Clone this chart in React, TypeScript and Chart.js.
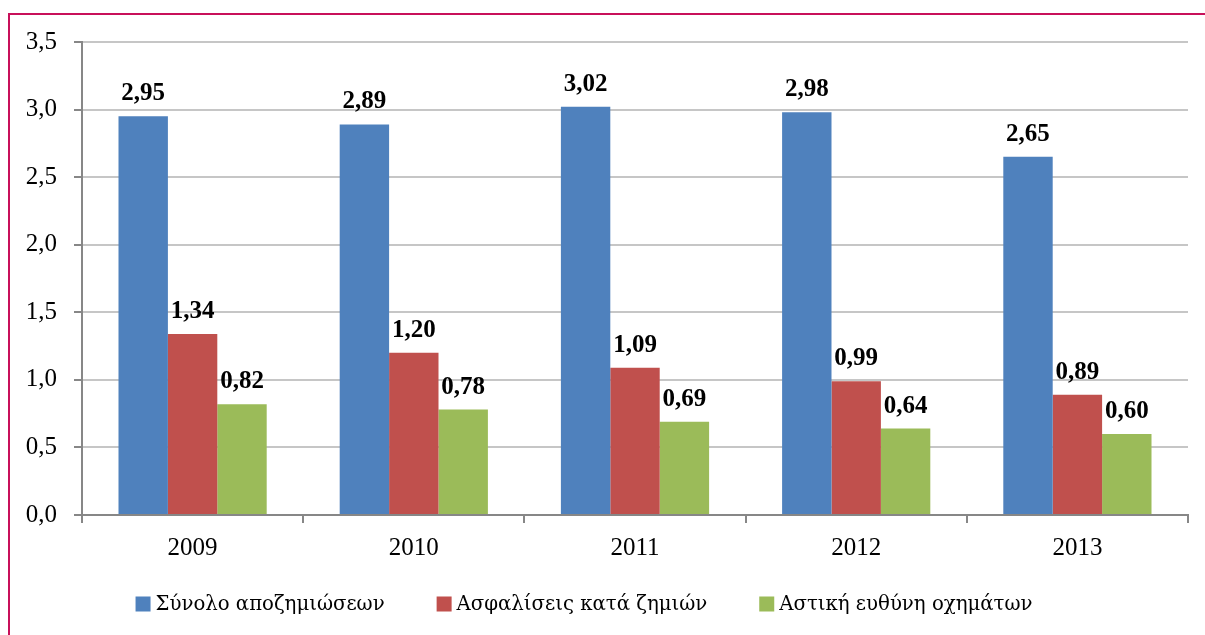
import React, { useEffect, useRef } from 'react';
import { Chart, registerables } from 'chart.js';

Chart.register(...registerables);

const categories = ['2009', '2010', '2011', '2012', '2013'];
const seriesNames = ['Σύνολο αποζημιώσεων', 'Ασφαλίσεις κατά ζημιών', 'Αστική ευθύνη οχημάτων'];
const totalValues = [2.95, 2.89, 3.02, 2.98, 2.65];
const propertyValues = [1.34, 1.2, 1.09, 0.99, 0.89];
const motorValues = [0.82, 0.78, 0.69, 0.64, 0.6];
const seriesColors = ['#4F81BD', '#C0504D', '#9BBB59'];

const FONT = "'Liberation Serif', 'Times New Roman', serif";
const LEGEND_FONT = "'DejaVu Serif', serif";
const fmt = (v: number, d: number) => v.toFixed(d).replace('.', ',');

const labelPlugin = {
  id: 'valueLabels',
  afterDatasetsDraw(chart: any) {
    const ctx = chart.ctx;
    ctx.save();
    ctx.font = `bold 25px ${FONT}`;
    ctx.fillStyle = '#000';
    ctx.textAlign = 'center';
    ctx.textBaseline = 'alphabetic';
    chart.data.datasets.forEach((ds: any, i: number) => {
      const meta = chart.getDatasetMeta(i);
      meta.data.forEach((el: any, j: number) => {
        ctx.fillText(fmt(ds.data[j], 2), el.x, el.y - 16);
      });
    });
    ctx.restore();
  },
};

const legendPlugin = {
  id: 'customLegend',
  afterDraw(chart: any) {
    const ctx = chart.ctx;
    ctx.save();
    ctx.font = `19.7px ${LEGEND_FONT}`;
    const box = 15;
    const gapText = 5;
    const gapItem = 52;
    const items = chart.data.datasets.map((ds: any) => ({
      text: ds.label,
      color: ds.backgroundColor,
      w: ctx.measureText(ds.label).width,
    }));
    const total = items.reduce((s: number, it: any) => s + box + gapText + it.w, 0) + gapItem * (items.length - 1);
    let x = 584 - total / 2;
    const cy = 604;
    ctx.textBaseline = 'middle';
    ctx.textAlign = 'left';
    items.forEach((it: any) => {
      ctx.fillStyle = it.color;
      ctx.fillRect(x, cy - box / 2, box, box);
      ctx.fillStyle = '#000';
      ctx.fillText(it.text, x + box + gapText, cy + 1);
      x += box + gapText + it.w + gapItem;
    });
    ctx.restore();
  },
};

export default function App() {
  const ref = useRef<HTMLCanvasElement | null>(null);

  useEffect(() => {
    document.body.style.overflow = 'hidden';
    if (!ref.current) return;
    const chart = new Chart(ref.current, {
      type: 'bar',
      data: {
        labels: categories,
        datasets: [
          { label: seriesNames[0], data: totalValues, backgroundColor: seriesColors[0] },
          { label: seriesNames[1], data: propertyValues, backgroundColor: seriesColors[1] },
          { label: seriesNames[2], data: motorValues, backgroundColor: seriesColors[2] },
        ],
      },
      options: {
        animation: false,
        responsive: false,
        maintainAspectRatio: false,
        layout: { padding: { left: 8, right: 17, top: 42, bottom: 0 } },
        datasets: { bar: { categoryPercentage: 0.67, barPercentage: 1 } },
        plugins: {
          legend: { display: false },
          tooltip: { enabled: false },
        },
        scales: {
          x: {
            afterFit(scale: any) { scale.height = 120; },
            grid: { offset: true, drawOnChartArea: false, tickLength: 8, color: '#878787', lineWidth: 2 },
            border: { color: '#878787', width: 2 },
            ticks: { font: { family: FONT, size: 25 }, color: '#000', padding: 10 },
          },
          y: {
            min: 0,
            max: 3.5,
            afterFit(scale: any) { scale.width = 74; },
            grid: { color: '#C6C6C6', lineWidth: 2, tickColor: '#878787', tickLength: 8 },
            border: { color: '#878787', width: 2 },
            ticks: {
              stepSize: 0.5,
              font: { family: FONT, size: 25 },
              color: '#000',
              padding: 17,
              callback: (v: any) => fmt(Number(v), 1),
            },
          },
        },
      },
      plugins: [labelPlugin, legendPlugin],
    });
    return () => chart.destroy();
  }, []);

  return (
    <div style={{ position: 'fixed', left: 0, top: 0, width: 1205, height: 635, background: '#fff' }}>
      <div
        style={{
          position: 'absolute',
          left: 8,
          top: 13,
          width: 1300,
          height: 700,
          borderTop: '2px solid #C8105A',
          borderLeft: '2px solid #C8105A',
        }}
      />
      <canvas ref={ref} width={1205} height={635} style={{ position: 'absolute', left: 0, top: 0 }} />
    </div>
  );
}
